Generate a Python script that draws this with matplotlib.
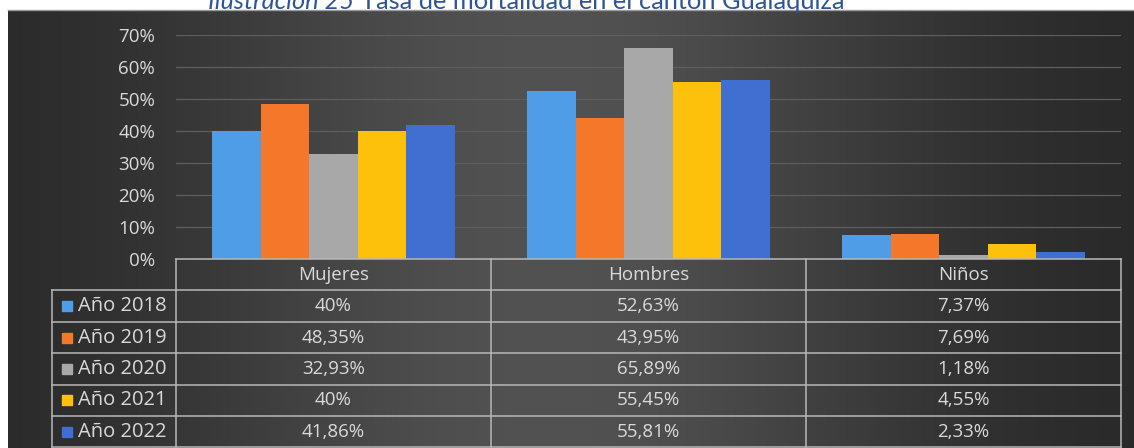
import numpy as np
import matplotlib.pyplot as plt
from matplotlib.patches import Rectangle

# datos
categorias = ['Mujeres', 'Hombres', 'Niños']
anios = ['Año 2018', 'Año 2019', 'Año 2020', 'Año 2021', 'Año 2022']
valores = [
    [40.00, 52.63, 7.37],
    [48.35, 43.95, 7.69],
    [32.93, 65.89, 1.18],
    [40.00, 55.45, 4.55],
    [41.86, 55.81, 2.33],
]
colores = ['#4e9de6', '#f4772a', '#a8a8a8', '#fdc10b', '#3f6fd0']
yticks = [0, 10, 20, 30, 40, 50, 60, 70]

W, H = 1134, 448
fig = plt.figure(figsize=(W / 100, H / 100), dpi=100)
fig.patch.set_facecolor('white')

def fx(px):
    return px / W

def fy(py):
    return 1 - py / H

# fondo con degradado horizontal
bg = fig.add_axes([fx(8), 0, 1 - fx(8), fy(11)])
x = np.linspace(0, 1, 400)
g = 0.15 + 0.17 * np.exp(-((x - 0.48) / 0.33) ** 2)
img = np.dstack([g, g, g])
bg.imshow(img, aspect='auto', extent=[0, 1, 0, 1])
bg.set_axis_off()
fig.add_artist(plt.Line2D([fx(8), 1], [fy(10.5), fy(10.5)], color='#9a9a9a', lw=1))

# titulo (la parte superior queda fuera, como en la imagen original)
t1 = fig.text(fx(208), fy(9), 'Ilustración 25', ha='left', va='baseline', fontsize=18.3,
              color='#2f5597', style='italic', family='Lato')
fig.canvas.draw()
bb = t1.get_window_extent()
fig.text(bb.x1 / W + fx(7), fy(9), 'Tasa de mortalidad en el cantón Gualaquiza', ha='left',
         va='baseline', fontsize=18.3, color='#2f5597', family='Lato')

txt = '#d9d9d9'
fs = 13.5

# area de barras
left, right, top, bottom = 176, 1121, 35, 259
ax = fig.add_axes([fx(left), fy(bottom), fx(right) - fx(left), fy(top) - fy(bottom)])
ax.set_facecolor('none')
n = len(anios)
ancho = 0.77 / n
xs = np.arange(len(categorias))
for i in range(n):
    ax.bar(xs - 0.385 + ancho * (i + 0.5), valores[i], width=ancho, color=colores[i], zorder=3)
ax.set_xlim(-0.5, len(categorias) - 0.5)
ax.set_ylim(0, 70)
ax.set_yticks(yticks)
ax.set_yticklabels([f'{t}%' for t in yticks], color=txt, fontsize=fs, family='Open Sans')
ax.tick_params(axis='y', length=0, pad=15)
ax.set_xticks([])
ax.grid(axis='y', color='#5e5e5e', linewidth=0.9, zorder=0)
for s in ax.spines.values():
    s.set_visible(False)

# tabla de datos
lc = '#b8b8b8'
col_edges = [left + (right - left) * k / len(categorias) for k in range(len(categorias) + 1)]
row_top = bottom
row_h = 31.4
leg_left = 52

def hline(y, x0, x1):
    fig.add_artist(plt.Line2D([fx(x0), fx(x1)], [fy(y), fy(y)], color=lc, lw=1.1))

def vline(xp, y0, y1):
    fig.add_artist(plt.Line2D([fx(xp), fx(xp)], [fy(y0), fy(y1)], color=lc, lw=1.1))

y_end = row_top + row_h * (n + 1)
hline(row_top, left, right)
for r in range(1, n + 2):
    hline(row_top + row_h * r, leg_left, right)
for xp in col_edges:
    vline(xp, row_top, y_end)
vline(leg_left, row_top + row_h, y_end)

for j, cat in enumerate(categorias):
    cx = (col_edges[j] + col_edges[j + 1]) / 2
    fig.text(fx(cx), fy(row_top + row_h / 2), cat, ha='center', va='center',
             color=txt, fontsize=fs, family='Open Sans')

def fmt(v):
    s = f'{v:.2f}'.rstrip('0').rstrip('.')
    return s.replace('.', ',') + '%'

for i in range(n):
    cy = row_top + row_h * (i + 1.5)
    fig.add_artist(Rectangle((fx(62), fy(cy + 5)), fx(10), 10 / H, color=colores[i]))
    fig.text(fx(78), fy(cy), anios[i], ha='left', va='center', color=txt,
             fontsize=14.5, family='Open Sans')
    for j in range(len(categorias)):
        cx = (col_edges[j] + col_edges[j + 1]) / 2
        fig.text(fx(cx), fy(cy), fmt(valores[i][j]), ha='center', va='center',
                 color=txt, fontsize=fs, family='Open Sans')

fig.savefig('out.png', dpi=100)
